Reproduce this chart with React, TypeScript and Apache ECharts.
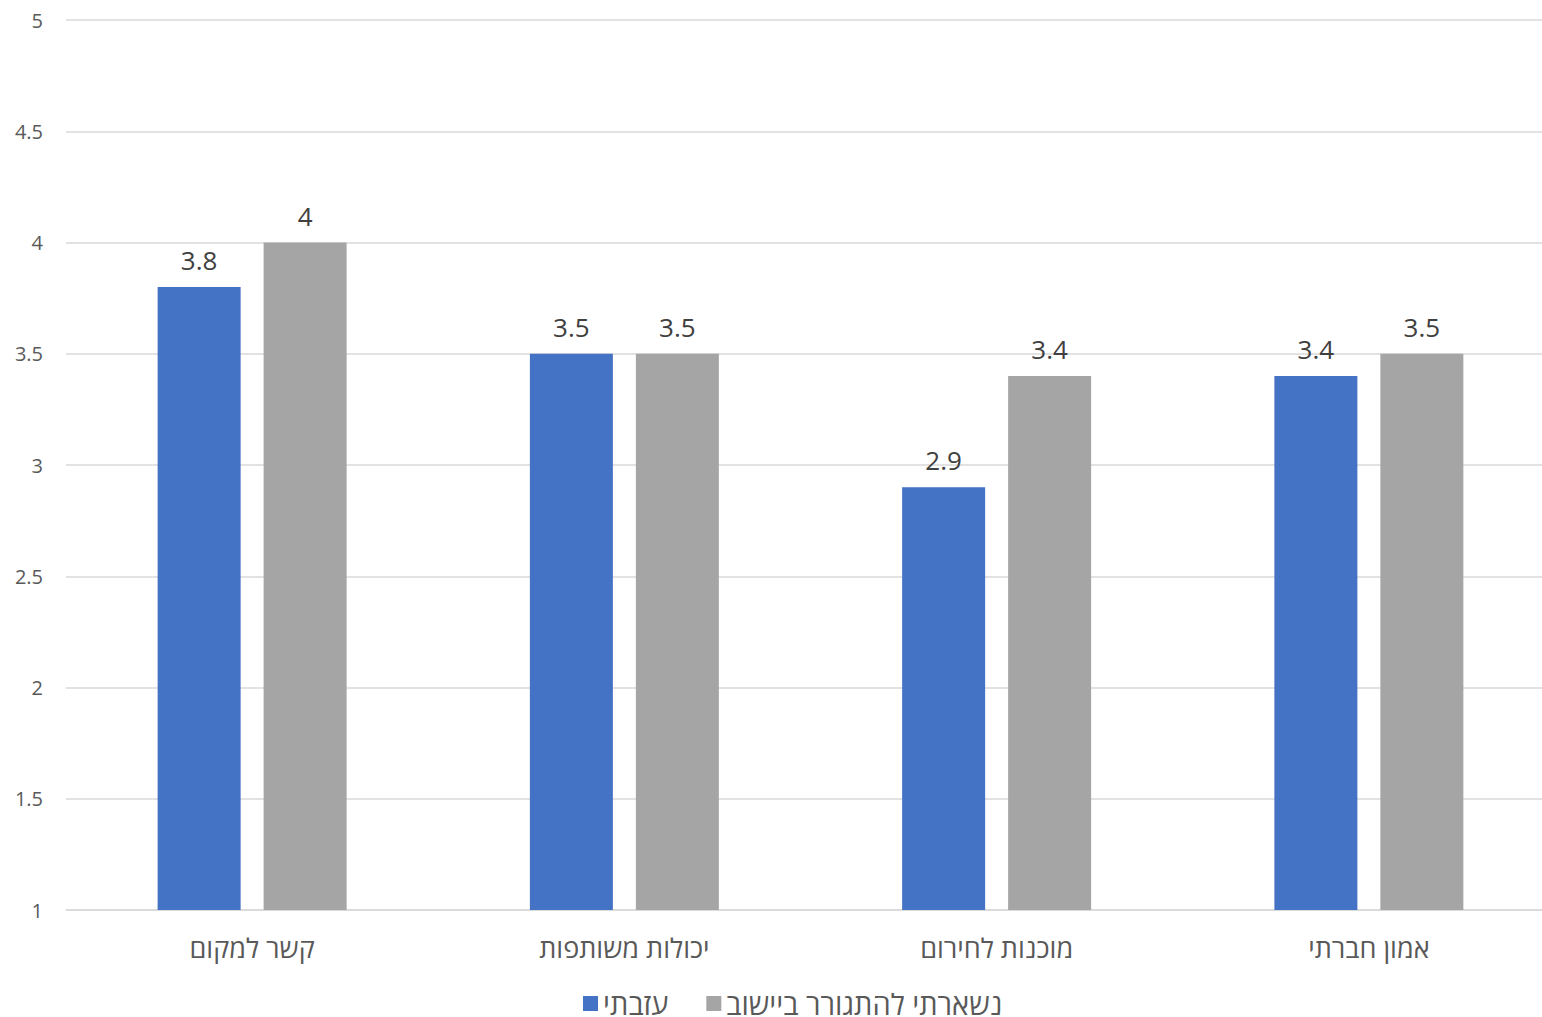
import React, { useEffect, useRef } from "react";
import * as echarts from "echarts";

const categories = ["קשר למקום", "יכולות משותפות", "מוכנות לחירום", "אמון חברתי"];
const leftValues = [3.8, 3.5, 2.9, 3.4];
const stayedValues = [4, 3.5, 3.4, 3.5];
const seriesNames = ["עזבתי", "נשארתי להתגורר ביישוב"];

const FONT = "'Open Sans', 'DejaVu Sans', sans-serif";

export default function App() {
  const ref = useRef<HTMLDivElement>(null);
  useEffect(() => {
    const chart = echarts.init(ref.current!, null, { renderer: "svg" });
    const label = {
      show: true,
      position: "top",
      distance: 14,
      color: "#404040",
      fontSize: 26,
      fontFamily: FONT,
    };
    chart.setOption({
      animation: false,
      backgroundColor: "#ffffff",
      textStyle: { fontFamily: FONT },
      grid: { left: 66, right: 0, top: 20, bottom: 107, containLabel: false },
      legend: {
        left: 578,
        top: 984,
        itemWidth: 15,
        itemHeight: 15,
        itemGap: 38,
        icon: "rect",
        textStyle: { fontSize: 29, color: "#595959", fontFamily: FONT },
        data: seriesNames,
      },
      xAxis: {
        type: "category",
        data: categories,
        axisTick: { show: false },
        axisLine: { lineStyle: { color: "#d9d9d9", width: 1.5 } },
        axisLabel: { fontSize: 27, color: "#595959", margin: 24, fontFamily: FONT },
      },
      yAxis: {
        type: "value",
        min: 1,
        max: 5,
        interval: 0.5,
        axisLine: { show: false },
        axisTick: { show: false },
        splitLine: { lineStyle: { color: "#d9d9d9", width: 1.5 } },
        axisLabel: { fontSize: 20, color: "#595959", margin: 23, fontFamily: FONT },
      },
      series: [
        {
          name: seriesNames[0],
          type: "bar",
          data: leftValues,
          barWidth: 83,
          barGap: "27.7%",
          itemStyle: { color: "#4472c4" },
          label,
        },
        {
          name: seriesNames[1],
          type: "bar",
          data: stayedValues,
          barWidth: 83,
          barGap: "27.7%",
          itemStyle: { color: "#a5a5a5" },
          label,
        },
      ],
    });
    return () => chart.dispose();
  }, []);
  return (
    <div style={{ position: "fixed", left: 0, top: 0, width: 1542, height: 1017, overflow: "hidden" }}>
      <div ref={ref} style={{ position: "absolute", left: 0, top: 0, width: 1555, height: 1017 }} />
    </div>
  );
}
